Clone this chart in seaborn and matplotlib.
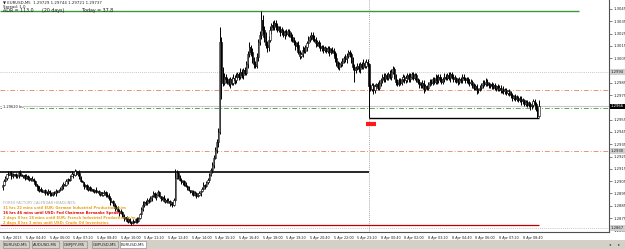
import numpy as np
import pandas as pd
import seaborn as sns
import matplotlib.pyplot as plt
from matplotlib.patches import Rectangle

sns.set_theme(style="white")
plt.rcParams["font.family"] = ["DejaVu Sans"]

# EURUSD M5, 5 Apr 2013 03:20 -> 8 Apr 2013 09:35
# prices stored as pips above 1.2900
base_price = 1.2900
first_open = 0
close_pips = [
    2, 5, 8, 11, 10, 12, 9, 10, 11, 9,
    10, 12, 10, 9, 10, 8, 9, 7, 8, 6,
    7, 5, 3, 1, -2, -1, -3, -4, -2, -4,
    -5, -3, -5, -6, -4, -5, -3, -4, -2, -1,
    1, 3, 2, 5, 7, 6, 9, 11, 10, 13,
    11, 12, 8, 5, 4, 1, 2, -1, 0, -2,
    -1, -3, -2, -4, -3, -5, -4, -6, -5, -4,
    -6, -7, -9, -12, -11, -14, -17, -16, -19, -21,
    -20, -23, -25, -24, -27, -26, -28, -29, -27, -28,
    -26, -27, -25, -22, -18, -14, -12, -13, -10, -11,
    -9, -7, -5, -8, -6, -4, -7, -9, -8, -11,
    -10, -12, -11, -13, -12, -14, -10, 8, 12, 9,
    6, 4, 5, 2, 1, 0, -2, -4, -3, -6,
    -5, -7, -6, -5, -3, -1, 2, 1, 4, 6,
    10, 14, 18, 24, 30, 37, 45, 118, 95, 85,
    90, 88, 86, 84, 88, 85, 89, 87, 90, 92,
    90, 94, 91, 95, 93, 100, 108, 114, 110, 104,
    100, 99, 106, 118, 124, 136, 128, 122, 116, 114,
    120, 128, 132, 130, 134, 131, 128, 129, 126, 127,
    124, 126, 125, 127, 124, 122, 120, 118, 115, 116,
    110, 107, 108, 112, 111, 114, 117, 120, 122, 124,
    121, 120, 117, 118, 115, 113, 114, 112, 113, 111,
    113, 110, 112, 111, 109, 105, 101, 98, 100, 101,
    103, 105, 104, 107, 110, 108, 103, 98, 95, 97,
    99, 96, 100, 98, 101, 99, 102, 100, 82, 80,
    83, 79, 82, 84, 81, 85, 87, 90, 88, 91,
    89, 92, 90, 94, 96, 90, 86, 84, 87, 85,
    88, 90, 87, 89, 91, 88, 90, 92, 89, 91,
    88, 86, 84, 83, 85, 80, 82, 81, 84, 86,
    85, 88, 86, 89, 87, 90, 88, 86, 88, 90,
    89, 91, 89, 92, 90, 88, 89, 87, 86, 88,
    87, 90, 89, 87, 88, 86, 85, 86, 83, 81,
    82, 79, 80, 81, 83, 85, 84, 86, 84, 83,
    84, 82, 83, 81, 82, 80, 81, 79, 80, 78,
    79, 77, 78, 76, 75, 73, 74, 72, 73, 71,
    72, 70, 71, 68, 69, 67, 68, 66, 67, 70,
    68, 64, 58, 66,
]
upper_wick = [
    1, 2, 1, 0, 2, 1, 1, 2, 0, 1,
    1, 1, 2, 1, 0, 1, 2, 1, 1, 0,
    2, 1, 1, 0, 1, 2, 1, 1, 0, 1,
    1, 2, 1, 1, 0, 1, 2, 1, 1, 1,
    2, 1, 1, 2, 1, 0, 1, 2, 1, 2,
    1, 1, 2, 1, 1, 0, 1, 1, 2, 1,
    1, 0, 1, 2, 1, 1, 1, 0, 1, 2,
    1, 1, 2, 1, 0, 1, 1, 2, 1, 1,
    2, 1, 1, 0, 1, 2, 1, 1, 1, 0,
    1, 2, 1, 1, 2, 3, 1, 2, 1, 1,
    2, 1, 2, 1, 1, 2, 1, 0, 1, 2,
    1, 1, 2, 1, 1, 0, 1, 7, 2, 1,
    1, 2, 1, 1, 2, 1, 1, 0, 1, 1,
    2, 1, 1, 2, 1, 1, 2, 1, 1, 2,
    2, 2, 3, 2, 3, 2, 3, 12, 4, 3,
    3, 2, 2, 3, 2, 2, 3, 2, 3, 2,
    2, 3, 2, 2, 3, 3, 3, 4, 2, 3,
    2, 3, 3, 3, 3, 7, 4, 3, 4, 3,
    3, 3, 2, 3, 2, 2, 3, 2, 2, 3,
    2, 2, 3, 2, 2, 2, 3, 2, 2, 2,
    3, 2, 2, 3, 2, 2, 2, 3, 2, 2,
    2, 3, 2, 2, 2, 3, 2, 2, 2, 1,
    2, 2, 1, 2, 2, 2, 3, 2, 2, 2,
    2, 2, 3, 2, 2, 2, 2, 3, 2, 2,
    2, 2, 2, 2, 3, 2, 2, 2, 1, 2,
    2, 2, 2, 1, 2, 2, 2, 2, 3, 2,
    2, 2, 3, 2, 3, 2, 2, 2, 2, 2,
    2, 2, 1, 2, 2, 2, 3, 2, 2, 2,
    2, 1, 2, 2, 2, 2, 2, 1, 2, 2,
    2, 2, 2, 3, 2, 2, 2, 2, 2, 3,
    2, 2, 3, 2, 2, 2, 2, 1, 2, 2,
    2, 2, 2, 1, 2, 2, 2, 2, 1, 2,
    2, 2, 1, 2, 2, 2, 2, 3, 2, 2,
    1, 2, 2, 2, 1, 2, 2, 2, 1, 2,
    2, 2, 1, 2, 2, 2, 1, 2, 2, 1,
    2, 2, 2, 1, 2, 2, 2, 1, 2, 2,
    2, 1, 2, 5,
]
lower_wick = [
    2, 1, 1, 2, 1, 0, 2, 1, 1, 1,
    1, 2, 1, 0, 1, 2, 1, 1, 2, 1,
    1, 1, 2, 1, 1, 2, 1, 0, 1, 2,
    1, 1, 2, 1, 1, 1, 2, 1, 0, 1,
    1, 2, 1, 1, 2, 1, 1, 0, 2, 1,
    1, 2, 1, 1, 0, 2, 1, 1, 2, 1,
    1, 1, 2, 1, 0, 1, 2, 1, 1, 1,
    2, 1, 1, 2, 1, 1, 2, 1, 1, 2,
    1, 1, 2, 1, 1, 2, 1, 2, 1, 1,
    1, 2, 1, 1, 2, 1, 2, 1, 1, 2,
    1, 2, 1, 1, 2, 1, 1, 2, 1, 1,
    2, 1, 1, 2, 1, 2, 1, 2, 1, 2,
    1, 1, 2, 1, 1, 2, 1, 1, 2, 1,
    1, 2, 1, 1, 2, 1, 1, 2, 1, 1,
    2, 1, 2, 2, 1, 2, 4, 2, 23, 3,
    2, 3, 2, 2, 3, 2, 2, 3, 2, 2,
    3, 2, 2, 3, 2, 2, 3, 2, 3, 3,
    3, 2, 2, 3, 2, 3, 3, 4, 3, 4,
    3, 2, 3, 2, 2, 3, 2, 2, 3, 2,
    2, 3, 2, 2, 2, 3, 2, 2, 3, 2,
    2, 3, 2, 2, 2, 2, 3, 2, 2, 2,
    2, 2, 3, 2, 2, 2, 2, 3, 2, 2,
    2, 3, 2, 2, 2, 3, 2, 2, 3, 2,
    2, 2, 2, 3, 2, 2, 2, 3, 9, 2,
    2, 2, 3, 2, 2, 2, 2, 2, 26, 2,
    2, 3, 2, 2, 2, 2, 3, 2, 2, 2,
    2, 2, 2, 3, 2, 2, 3, 2, 2, 2,
    2, 2, 2, 2, 3, 2, 2, 2, 2, 2,
    2, 2, 3, 2, 2, 3, 2, 2, 2, 2,
    2, 2, 2, 2, 3, 2, 2, 2, 2, 2,
    2, 2, 2, 3, 2, 2, 2, 2, 3, 2,
    2, 2, 2, 2, 2, 2, 3, 2, 2, 2,
    2, 3, 2, 2, 2, 2, 2, 2, 2, 2,
    2, 2, 2, 2, 3, 2, 2, 2, 2, 2,
    2, 2, 2, 2, 2, 3, 2, 2, 2, 2,
    2, 3, 2, 2, 2, 2, 2, 3, 2, 2,
    2, 2, 2, 1,
]
monday_first_bar = 248

time_labels = [
    "5 Apr 2013", "5 Apr 04:40", "5 Apr 06:00", "5 Apr 07:20", "5 Apr 08:40",
    "5 Apr 10:00", "5 Apr 11:20", "5 Apr 12:40", "5 Apr 14:00", "5 Apr 15:20",
    "5 Apr 16:40", "5 Apr 18:00", "5 Apr 19:20", "5 Apr 20:40", "5 Apr 22:00",
    "5 Apr 23:20", "8 Apr 00:40", "8 Apr 02:00", "8 Apr 03:20", "8 Apr 04:40",
    "8 Apr 06:00", "8 Apr 07:20", "8 Apr 08:40",
]
price_labels = [
    "1.3045", "1.3035", "1.3025", "1.3015", "1.3005", "1.2995", "1.2985",
    "1.2975", "1.2965", "1.2955", "1.2945", "1.2935", "1.2925", "1.2915",
    "1.2905", "1.2895", "1.2885", "1.2875", "1.2865",
]

dotted_levels = [1.29938, 1.28670]
orange_levels = [1.29791, 1.29295]
green_level = 1.29645
black_level = 1.29125
red_mark_level = 1.29515

headlines = [
    ("FOREX FACTORY CALENDAR HEADLINES:", "#a8a8a8"),
    ("31 hrs 22 mins until EUR: German Industrial Production m/m", "#e8a317"),
    ("16 hrs 46 mins until USD: Fed Chairman Bernanke Speaks", "#e01010"),
    ("2 days 8 hrs 18 mins until EUR: French Industrial Production m/m", "#e8a317"),
    ("2 days 8 hrs 3 mins until USD: Crude Oil Inventories", "#e8a317"),
]
tabs = ["EURUSD,M5", "AUDUSD,M5", "GBPJPY,M5", "GBPUSD,M5", "EURUSD,M5"]

# ---- build OHLC
df = pd.DataFrame({"close": close_pips})
df["open"] = [first_open] + close_pips[:-1]
df["high"] = df[["open", "close"]].max(axis=1) + np.array(upper_wick)
df["low"] = df[["open", "close"]].min(axis=1) - np.array(lower_wick)
for c in ["open", "close", "high", "low"]:
    df[c] = base_price + df[c] / 10000
df["bar"] = np.arange(len(df))
n = len(df)

W, H = 625, 249
fig = plt.figure(figsize=(W / 100, H / 100), dpi=100)
fig.patch.set_facecolor("white")
ax = fig.add_axes([0, 17 / H, 609 / W, 232 / H])
ax.set_facecolor("white")

x0, x1 = -1.7, 410.4
ax.set_xlim(x0, x1)
ax.set_ylim(1.28637, 1.30523)


def fpx(x, y):
    return x / W, 1 - y / H


# levels
day_high = df["high"].max()
fri_low = df["low"][:monday_first_bar].min()
mon_low = df["low"][monday_first_bar:].min()
last = df["close"].iloc[-1]

for lv in dotted_levels:
    ax.axhline(lv, color="#b4b4b4", lw=0.6, ls=(0, (1, 1.5)), zorder=1)
for lv in orange_levels:
    ax.axhline(lv, color="#e3977a", lw=0.7, ls=(0, (5, 2, 1, 2)), zorder=1)
ax.axhline(green_level, color="#5aa55a", lw=0.7, ls=(0, (5, 2, 1, 2)), zorder=1)
ax.axhline(last, color="#c8c8c8", lw=0.8, zorder=1)
ax.axvline(monday_first_bar, color="#8c8c8c", lw=0.6, ls=(0, (1, 1.5)), zorder=1)

ax.hlines(day_high, x0, 390, color="#3c963c", lw=1.0, zorder=2)
ax.hlines(fri_low, x0, n - 1, color="#c00000", lw=0.9, zorder=2)
ax.hlines(black_level, x0, monday_first_bar, color="black", lw=1.2, zorder=2)
ax.hlines(mon_low, monday_first_bar, n - 1, color="black", lw=1.0, zorder=2)
ax.hlines(red_mark_level, monday_first_bar - 2, monday_first_bar + 5,
          color="#ff1a1a", lw=3, zorder=2)

# candles
bull = df["close"] >= df["open"]
body = (df["close"] - df["open"]).abs().clip(lower=0.00003)
ax.vlines(df["bar"], df["low"], df["high"], color="black", lw=0.7, zorder=3)
ax.bar(df["bar"], body, bottom=df[["open", "close"]].min(axis=1), width=0.8,
       color=np.where(bull, "white", "black"), edgecolor="black",
       linewidth=0.4, zorder=4)

# right-axis boxes (MT4 shows these instead of the tick label underneath)
boxes = [
    (dotted_levels[0], "1.2994", "#d0d0d0", "#202020"),
    (orange_levels[1], "1.2930", "#d0d0d0", "#202020"),
    (dotted_levels[1], "1.2867", "#d0d0d0", "#202020"),
    (last, "1.2966", "black", "white"),
]
shown_labels = [
    "" if any(abs(float(p) - b[0]) < 0.0004 for b in boxes[:1] + boxes[3:]) else p
    for p in price_labels
]

# axes
for s in ["top", "left"]:
    ax.spines[s].set_visible(False)
for s in ["right", "bottom"]:
    ax.spines[s].set_color("#505050")
    ax.spines[s].set_linewidth(0.8)
ax.yaxis.tick_right()
ax.set_yticks([float(p) for p in price_labels])
ax.set_yticklabels(shown_labels, fontsize=2.7, color="#202020")
ax.set_xticks(np.arange(len(time_labels)) * 16)
ax.set_xticklabels(time_labels, fontsize=2.4, ha="left", color="#202020")
ax.tick_params(axis="both", length=2, width=0.5, pad=1, color="#505050")
ax.grid(False)

for level, text, fc, tc in boxes:
    ax.text(1.003, level, text, transform=ax.get_yaxis_transform(), fontsize=2.7,
            color=tc, va="center", ha="left", clip_on=False, zorder=6,
            bbox=dict(boxstyle="square,pad=0.15", fc=fc, ec="none"))

# header texts
fig.text(*fpx(3, 3), "\u25bc EURUSD,M5  1.29729 1.29744 1.29721 1.29737",
         fontsize=2.8, color="#202020", va="center")
fig.text(*fpx(3, 7), "Spread: 1.0", fontsize=2.8, color="#202020", va="center")
fig.text(*fpx(3, 10.5), "ADR = 113.0", fontsize=3.4, color="#202020", va="center")
fig.text(*fpx(42, 10.5), "(20 days)", fontsize=3.4, color="#202020", va="center")
fig.text(*fpx(82, 10.5), "Today = 37.8", fontsize=3.4, color="#202020", va="center")
fig.text(*fpx(3, 107), "1.29620 bu", fontsize=2.6, color="#202020", va="center",
         bbox=dict(boxstyle="square,pad=0.2", fc="white", ec="none"), zorder=5)

# calendar headlines
for i, (txt, col) in enumerate(headlines):
    fig.text(*fpx(3, 203 + i * 5), txt, fontsize=2.6, color=col, va="center",
             fontweight="bold" if i else "normal")

# tab bar
fig.patches.append(Rectangle((0, 0), 1, 9 / H, transform=fig.transFigure,
                             facecolor="#d4d0c8", edgecolor="none", zorder=0))
tab_x = [2, 31, 62, 91, 119]
for i, (lab, tx) in enumerate(zip(tabs, tab_x)):
    active = i == len(tabs) - 1
    fig.text(*fpx(tx + 2, 244.5), lab, fontsize=2.9, color="#202020", va="center",
             bbox=dict(boxstyle="square,pad=0.35", fc="white" if active else "#d4d0c8",
                       ec="#808080", lw=0.4))
fig.text(*fpx(609, 244.5), "\u25c2", fontsize=3, color="#404040", va="center")
fig.text(*fpx(618, 244.5), "\u25b8", fontsize=3, color="#404040", va="center")

fig.savefig("out.png", dpi=100)
plt.close(fig)
